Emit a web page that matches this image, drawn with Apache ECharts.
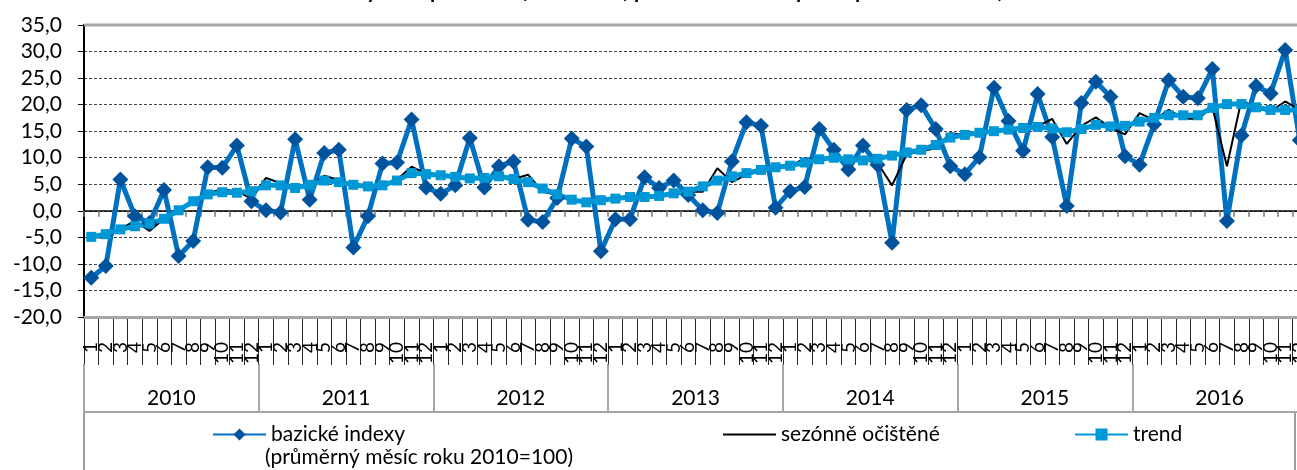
<!DOCTYPE html>
<html>
<head>
<meta charset="utf-8">
<script src="https://cdn.jsdelivr.net/npm/echarts@6/dist/echarts.min.js"></script>
<style>
  html, body { margin: 0; padding: 0; overflow: hidden; background: #fff; }
  #chart { width: 1320px; height: 490px; }
</style>
</head>
<body>
<div id="chart"></div>
<script>
// x axis: months inside years
let years = ['2010', '2011', '2012', '2013', '2014', '2015', '2016']
let monthNames = ['1', '2', '3', '4', '5', '6', '7', '8', '9', '10', '11', '12']

// bazické indexy (průměrný měsíc roku 2010=100)
let bazicke = [
  -12.6, -10.4, 5.9, -1.0, -2.3, 3.9, -8.5, -5.7, 8.2, 8.1, 12.3, 1.8,
  0.1, -0.3, 13.5, 2.1, 10.9, 11.5, -6.9, -1.0, 8.9, 9.1, 17.2, 4.4,
  3.2, 4.8, 13.7, 4.4, 8.4, 9.3, -1.7, -2.1, 2.4, 13.6, 12.1, -7.6,
  -1.6, -1.6, 6.3, 4.3, 5.7, 3.0, 0.1, -0.4, 9.3, 16.7, 16.0, 0.6,
  3.7, 4.5, 15.4, 11.5, 7.8, 12.3, 8.7, -6.0, 19.0, 19.9, 15.4, 8.4,
  6.9, 10.1, 23.2, 16.9, 11.3, 22.0, 13.9, 0.9, 20.3, 24.3, 21.5, 10.3,
  8.7, 16.3, 24.6, 21.5, 21.2, 26.7, -1.9, 14.2, 23.5, 22.1, 30.3, 13.3
]
// sezónně očištěné
let sezonne = [
  -4.9, -5.1, -3.4, -1.9, -3.8, -1.5, 0.1, 1.8, 3.4, 4.0, 3.7, 2.3,
  6.2, 5.2, 4.3, 4.5, 6.6, 5.8, 4.9, 4.5, 4.6, 5.9, 8.3, 7.0,
  6.5, 6.2, 6.3, 6.5, 6.3, 6.0, 6.8, 3.6, 3.0, 2.0, 1.6, 2.0,
  2.3, 2.8, 2.9, 3.0, 3.4, 3.6, 3.6, 8.0, 5.4, 6.8, 7.4, 8.0,
  8.4, 9.9, 9.6, 10.2, 9.3, 9.6, 9.0, 4.8, 10.6, 11.2, 11.8, 14.6,
  14.3, 14.6, 14.8, 15.3, 15.6, 15.9, 17.3, 12.6, 16.0, 17.6, 15.6, 14.4,
  18.4, 17.1, 19.0, 17.4, 17.3, 19.5, 8.4, 20.9, 19.3, 18.7, 20.6, 19.0
]
// trend
let trend = [
  -4.9, -4.4, -3.5, -2.9, -2.4, -1.5, 0.1, 1.8, 3.1, 3.5, 3.4, 3.7,
  4.8, 4.8, 4.3, 4.9, 5.7, 5.4, 4.9, 4.6, 4.8, 5.7, 7.1, 6.9,
  6.7, 6.4, 6.1, 6.2, 6.5, 6.0, 5.4, 4.2, 3.1, 2.1, 1.6, 2.0,
  2.3, 2.6, 2.6, 2.8, 3.3, 3.6, 4.6, 5.7, 6.5, 7.1, 7.7, 8.2,
  8.5, 9.1, 9.7, 10.0, 9.7, 9.5, 9.8, 10.4, 11.0, 11.5, 12.4, 13.8,
  14.3, 14.7, 15.0, 15.3, 15.6, 15.8, 15.5, 14.8, 15.4, 16.2, 15.9, 16.0,
  16.8, 17.5, 18.0, 18.0, 18.0, 19.4, 20.1, 20.1, 19.5, 19.0, 19.0, 19.0
]

let categories = []
years.forEach(function (y) {
  monthNames.forEach(function (m) { categories.push(m) })
})

const font = 'Lato, "Open Sans", sans-serif'
let chart = echarts.init(document.getElementById('chart'))

let legendText = { fontSize: 21, color: '#000', fontFamily: font }

let option = {
  animation: false,
  backgroundColor: '#fff',
  textStyle: { fontFamily: font },
  title: {
    left: 'center',
    top: -24,
    text: '{b|Průmyslová produkce} {n|(meziročně) po očištění o vliv počtu pracovních dnů)}',
    textStyle: {
      rich: {
        b: { fontSize: 21, fontWeight: 'bold', color: '#000', fontFamily: font },
        n: { fontSize: 21, color: '#000', fontFamily: font }
      }
    }
  },
  grid: [
    { left: 84, top: 25, width: 1223, height: 292 },
    // strip under the plot for the month separators
    { left: 84, top: 318, width: 1223, height: 47 }
  ],
  xAxis: [
    {
      // axis line crossing at 0
      type: 'category',
      data: categories,
      position: 'bottom',
      axisLine: { onZero: true, lineStyle: { color: '#000', width: 1.5 } },
      axisTick: { show: true, length: 6, interval: 0, lineStyle: { color: '#777', width: 1.5 } },
      axisLabel: { show: false },
      splitLine: { show: false }
    },
    {
      // months row labels
      type: 'category',
      data: categories,
      position: 'bottom',
      offset: 0,
      axisLine: { show: true, onZero: false, lineStyle: { color: '#a6a6a6', width: 3 } },
      axisTick: { show: false },
      axisLabel: { show: true, interval: 0, rotate: 90, margin: 25, fontSize: 19, color: '#000', fontFamily: font },
      splitLine: { show: false }
    },
    {
      // years row
      type: 'category',
      data: years,
      position: 'bottom',
      offset: 47,
      axisLine: { show: true, onZero: false, lineStyle: { color: 'rgba(0,0,0,0)' } },
      axisTick: { show: true, length: 47, interval: 0, lineStyle: { color: '#8c8c8c', width: 1.5 } },
      axisLabel: { show: true, interval: 0, margin: 24, fontSize: 21, color: '#000', fontFamily: font },
      splitLine: { show: false }
    },
    {
      // month separators in the strip
      type: 'category',
      gridIndex: 1,
      data: categories,
      axisLine: { show: false },
      axisTick: { show: false },
      axisLabel: { show: false },
      splitLine: { show: true, interval: 0, lineStyle: { color: '#262626', width: 1 } }
    }
  ],
  yAxis: [
    {
      type: 'value',
      min: -20,
      max: 35,
      interval: 5,
      axisLine: { show: true, onZero: false, lineStyle: { color: '#000', width: 2 } },
      axisTick: { show: true, length: 6, lineStyle: { color: '#000' } },
      axisLabel: {
        margin: 22,
        fontSize: 21,
        color: '#000',
        fontFamily: font,
        formatter: function (v) { return v.toFixed(1).replace('.', ',') }
      },
      splitLine: { lineStyle: { color: '#404040', width: 1, type: [3, 2] } }
    },
    { type: 'value', gridIndex: 1, show: false, splitLine: { show: false } }
  ],
  legend: [
    {
      left: 207, top: 419, itemWidth: 53, itemHeight: 15,
      data: ['bazické indexy'],
      textStyle: legendText
    },
    {
      left: 717, top: 419, itemWidth: 53, itemHeight: 15,
      data: [{ name: 'sezónně očištěné', itemStyle: { opacity: 0 } }],
      textStyle: legendText
    },
    {
      left: 1069, top: 419, itemWidth: 53, itemHeight: 15,
      data: ['trend'],
      textStyle: legendText
    }
  ],
  graphic: [
    {
      type: 'line', z: 100,
      shape: { x1: 84, y1: 25, x2: 1320, y2: 25 },
      style: { stroke: '#a6a6a6', lineWidth: 3 }
    },
    {
      type: 'line', z: 100,
      shape: { x1: 84, y1: 412, x2: 1320, y2: 412 },
      style: { stroke: '#a6a6a6', lineWidth: 2 }
    },
    {
      type: 'rect', z: 90,
      shape: { x: 84, y: 412, width: 1211, height: 90 },
      style: { fill: 'none', stroke: '#7f7f7f', lineWidth: 1.5 }
    },
    {
      type: 'text', z: 100, left: 265, top: 447,
      style: { text: '(průměrný měsíc roku 2010=100)', fontSize: 21, fill: '#000', fontFamily: font }
    }
  ],
  series: [
    {
      name: 'bazické indexy',
      type: 'line',
      xAxisIndex: 0,
      yAxisIndex: 0,
      data: bazicke,
      symbol: 'diamond',
      symbolSize: 16,
      showAllSymbol: true,
      lineStyle: { color: '#0070c0', width: 5 },
      itemStyle: { color: '#00539c', borderWidth: 0 }
    },
    {
      name: 'sezónně očištěné',
      type: 'line',
      xAxisIndex: 0,
      yAxisIndex: 0,
      data: sezonne,
      symbol: 'none',
      lineStyle: { color: '#000', width: 2 },
      itemStyle: { color: '#000' }
    },
    {
      name: 'trend',
      type: 'line',
      xAxisIndex: 0,
      yAxisIndex: 0,
      data: trend,
      symbol: 'rect',
      symbolSize: 10,
      showAllSymbol: true,
      lineStyle: { color: '#0097d7', width: 5 },
      itemStyle: { color: '#0097d7', borderWidth: 0 }
    }
  ]
}

chart.setOption(option)
</script>
</body>
</html>
